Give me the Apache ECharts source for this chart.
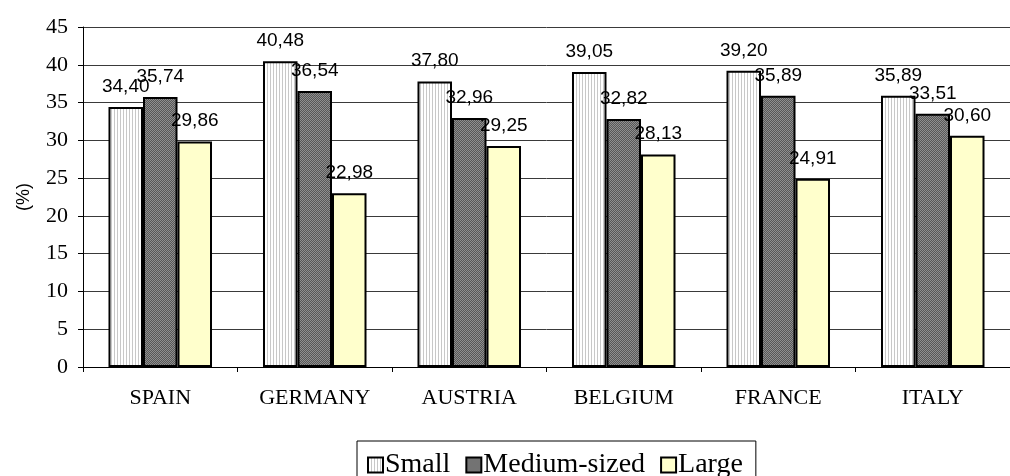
<!DOCTYPE html>
<html>
<head>
<meta charset="utf-8">
<style>
  html, body { margin: 0; padding: 0; background: #fff; }
  #chart { width: 1010px; height: 476px; }
</style>
<script src="https://cdn.jsdelivr.net/npm/echarts@6/dist/echarts.min.js"></script>
</head>
<body>
<div id="chart"></div>
<script>
// Share of firms by size class, per country (%)
const countries = ['SPAIN', 'GERMANY', 'AUSTRIA', 'BELGIUM', 'FRANCE', 'ITALY'];
const small = [34.40, 40.48, 37.80, 39.05, 39.20, 35.89];
const medium = [35.74, 36.54, 32.96, 32.82, 35.89, 33.51];
const large = [29.86, 22.98, 29.25, 28.13, 24.91, 30.60];
const seriesNames = ['Small', 'Medium-sized', 'Large'];

// Fill patterns drawn on tiny canvases
function makePattern(w, h, draw) {
  const c = document.createElement('canvas');
  c.width = w; c.height = h;
  draw(c.getContext('2d'));
  return { image: c, repeat: 'repeat' };
}
const stripes = makePattern(3, 3, ctx => {
  ctx.fillStyle = '#ffffff'; ctx.fillRect(0, 0, 3, 3);
  ctx.fillStyle = '#c8c8c8'; ctx.fillRect(0, 0, 1, 3);
});
const dots = makePattern(2, 2, ctx => {
  ctx.fillStyle = '#575757'; ctx.fillRect(0, 0, 2, 2);
  ctx.fillStyle = '#8f8f8f'; ctx.fillRect(0, 0, 1, 1); ctx.fillRect(1, 1, 1, 1);
});
const fills = [stripes, dots, '#ffffcc'];

const serif = '"Liberation Serif", "Times New Roman", serif';
const sans = '"Liberation Sans", Arial, sans-serif';

function fmt(v) { return v.toFixed(2).replace('.', ','); }

const chart = echarts.init(document.getElementById('chart'));
chart.setOption({
  animation: false,
  backgroundColor: '#fff',
  grid: { left: 83, top: 27, bottom: 109, right: -14, containLabel: false },
  legend: {
    data: seriesNames,
    left: 357, top: 441,
    padding: [10, 13, 10, 10],
    borderColor: '#000', borderWidth: 1,
    itemWidth: 15, itemHeight: 15, itemGap: 15,
    icon: 'rect',
    textStyle: { fontFamily: serif, fontSize: 28, color: '#000', padding: [0, 0, 0, -3] }
  },
  xAxis: {
    type: 'category',
    data: countries,
    axisLine: { lineStyle: { color: '#000', width: 1 } },
    axisTick: { show: true, length: 5, lineStyle: { color: '#000' } },
    axisLabel: { margin: 20, fontFamily: serif, fontSize: 22, color: '#000' }
  },
  yAxis: {
    type: 'value',
    min: 0, max: 45, interval: 5,
    name: '(%)',
    nameLocation: 'middle',
    nameGap: 50,
    nameRotate: 90,
    nameTextStyle: { fontFamily: sans, fontSize: 18, color: '#000' },
    axisLine: { show: true, lineStyle: { color: '#000', width: 1 } },
    axisTick: { show: true, length: 5, lineStyle: { color: '#000' } },
    axisLabel: { margin: 15, fontFamily: serif, fontSize: 22, color: '#000' },
    splitLine: { lineStyle: { color: '#3a3a3a', width: 1 } }
  },
  series: [small, medium, large].map((vals, i) => ({
    name: seriesNames[i],
    type: 'bar',
    data: vals,
    barGap: '0%',
    barCategoryGap: '33%',
    itemStyle: { color: fills[i], borderColor: '#000', borderWidth: 2 },
    label: {
      show: true,
      position: 'top',
      distance: 11,
      fontFamily: sans,
      fontSize: 19,
      color: '#000',
      formatter: p => fmt(p.value)
    }
  }))
});
</script>
</body>
</html>
